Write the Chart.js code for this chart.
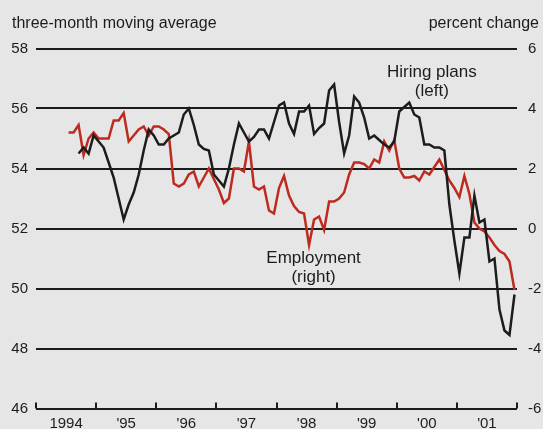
<!DOCTYPE html>
<html>
<head>
<meta charset="utf-8">
<script src="https://cdn.jsdelivr.net/npm/chart.js@4.4.1/dist/chart.umd.min.js"></script>
<style>
  html, body { margin: 0; padding: 0; background: #e6e6e6; }
  #wrap { width: 543px; height: 429px; }
</style>
</head>
<body>
<div id="wrap"><canvas id="chart"></canvas></div>
<script>
// months counted from Jan 1994 (0) to Dec 2001 (95), points sit mid-month
const yearLabels = ["1994", "'95", "'96", "'97", "'98", "'99", "'00", "'01"];
const leftTicks = [46, 48, 50, 52, 54, 56, 58];
const rightTicks = [-6, -4, -2, 0, 2, 4, 6];

// Hiring plans (left axis), starts Sep 1994
const hiringStart = 8;
const hiringPlans = [
  54.5, 54.7, 54.5, 55.1, 54.9, 54.7, 54.2, 53.7, 53.0, 52.3, 52.8, 53.2,
  53.8, 54.6, 55.3, 55.1, 54.8, 54.8, 55.0, 55.1, 55.2, 55.8, 56.0, 55.45,
  54.8, 54.65, 54.6, 53.8, 53.6, 53.4, 54.0, 54.8, 55.5, 55.2, 54.9, 55.05,
  55.3, 55.3, 55.0, 55.55, 56.1, 56.2, 55.5, 55.15, 55.9, 55.9, 56.1, 55.15,
  55.35, 55.5, 56.6, 56.8, 55.55, 54.5, 55.1, 56.4, 56.2, 55.7, 55.0, 55.1,
  54.95, 54.8, 54.7, 54.9, 55.9, 56.05, 56.2, 55.8, 55.7, 54.8, 54.8, 54.7,
  54.7, 54.6, 52.8, 51.6, 50.5, 51.7, 51.7, 53.1, 52.2, 52.3, 50.9, 51.0,
  49.3, 48.6, 48.45, 49.8
];

// Employment, percent change (right axis), starts Jul 1994
const employmentStart = 6;
const employment = [
  3.2, 3.2, 3.45, 2.45, 3.0, 3.2, 3.0, 3.0, 3.0, 3.6, 3.6, 3.85,
  2.9, 3.1, 3.3, 3.4, 3.1, 3.4, 3.4, 3.3, 3.15, 1.5, 1.4, 1.5,
  1.8, 1.9, 1.4, 1.7, 2.0, 1.65, 1.3, 0.85, 1.0, 2.0, 2.0, 1.9,
  2.9, 1.4, 1.3, 1.4, 0.6, 0.5, 1.35, 1.75, 1.1, 0.75, 0.55, 0.5,
  -0.55, 0.3, 0.4, -0.05, 0.9, 0.9, 1.0, 1.2, 1.8, 2.2, 2.2, 2.15,
  2.0, 2.3, 2.2, 2.9, 2.6, 2.95, 2.0, 1.7, 1.7, 1.75, 1.6, 1.9,
  1.8, 2.05, 2.3, 1.95, 1.6, 1.35, 1.05, 1.75, 1.15, 0.2, 0.0, -0.1,
  -0.3, -0.55, -0.75, -0.85, -1.1, -2.05
];

const ink = "#1c1c1c";
const red = "#bf2a20";
const family = "'Liberation Sans', Arial, Helvetica, sans-serif";

function toPoints(start, values) {
  return values.map((v, k) => ({ x: start + k + 0.5, y: v }));
}

const extras = {
  id: "extras",
  afterDraw(chart) {
    const { ctx, chartArea, scales } = chart;
    const x = scales.x, y = scales.y;
    ctx.save();
    // year tick marks pointing up from the base line
    ctx.strokeStyle = ink;
    ctx.lineWidth = 2;
    for (let k = 0; k <= yearLabels.length; k++) {
      const px = Math.round(x.getPixelForValue(k * 12));
      ctx.beginPath();
      ctx.moveTo(px, chartArea.bottom);
      ctx.lineTo(px, chartArea.bottom - 6);
      ctx.stroke();
    }
    // axis headers
    ctx.fillStyle = ink;
    ctx.font = "16px " + family;
    ctx.textBaseline = "alphabetic";
    ctx.textAlign = "left";
    ctx.fillText("three-month moving average", 12, 28);
    ctx.textAlign = "right";
    ctx.fillText("percent change", 539, 28);
    // series notes
    ctx.font = "17px " + family;
    ctx.textAlign = "center";
    ctx.fillText("Hiring plans", x.getPixelForValue(79), y.getPixelForValue(57.06));
    ctx.fillText("(left)", x.getPixelForValue(79), y.getPixelForValue(56.43));
    ctx.fillText("Employment", x.getPixelForValue(55.4), y.getPixelForValue(50.86));
    ctx.fillText("(right)", x.getPixelForValue(55.4), y.getPixelForValue(50.23));
    ctx.restore();
  }
};

const tickFont = { family: family, size: 15 };

new Chart(document.getElementById("chart"), {
  type: "line",
  data: {
    datasets: [
      {
        label: "Hiring plans",
        data: toPoints(hiringStart, hiringPlans),
        yAxisID: "y",
        borderColor: ink,
        borderWidth: 2.5,
        pointRadius: 0,
        tension: 0,
        order: 0
      },
      {
        label: "Employment",
        data: toPoints(employmentStart, employment),
        yAxisID: "y2",
        borderColor: red,
        borderWidth: 2.5,
        pointRadius: 0,
        tension: 0,
        order: 1
      }
    ]
  },
  options: {
    responsive: true,
    maintainAspectRatio: false,
    animation: false,
    layout: { padding: { top: 48.5, left: 0, right: 0, bottom: 0 } },
    plugins: { legend: { display: false }, tooltip: { enabled: false } },
    scales: {
      x: {
        type: "linear",
        min: 0,
        max: 96,
        afterBuildTicks: s => { s.ticks = yearLabels.map((_, k) => ({ value: k * 12 + 6 })); },
        ticks: {
          callback: (v, i) => yearLabels[i],
          padding: 6,
          color: ink,
          font: tickFont,
          maxRotation: 0,
          autoSkip: false
        },
        grid: { display: false, drawTicks: false },
        border: { display: false },
        afterFit: s => { s.height = 20.5; }
      },
      y: {
        position: "left",
        min: 46,
        max: 58,
        afterBuildTicks: s => { s.ticks = leftTicks.map(v => ({ value: v })); },
        ticks: { padding: 8, color: ink, font: tickFont },
        grid: { color: ink, lineWidth: 2, drawTicks: false },
        border: { display: false },
        afterFit: s => { s.width = 36; }
      },
      y2: {
        position: "right",
        min: -6,
        max: 6,
        afterBuildTicks: s => { s.ticks = rightTicks.map(v => ({ value: v })); },
        ticks: { padding: 11, color: ink, font: tickFont },
        grid: { display: false, drawTicks: false },
        border: { display: false },
        afterFit: s => { s.width = 26; }
      }
    }
  },
  plugins: [extras]
});
</script>
</body>
</html>
